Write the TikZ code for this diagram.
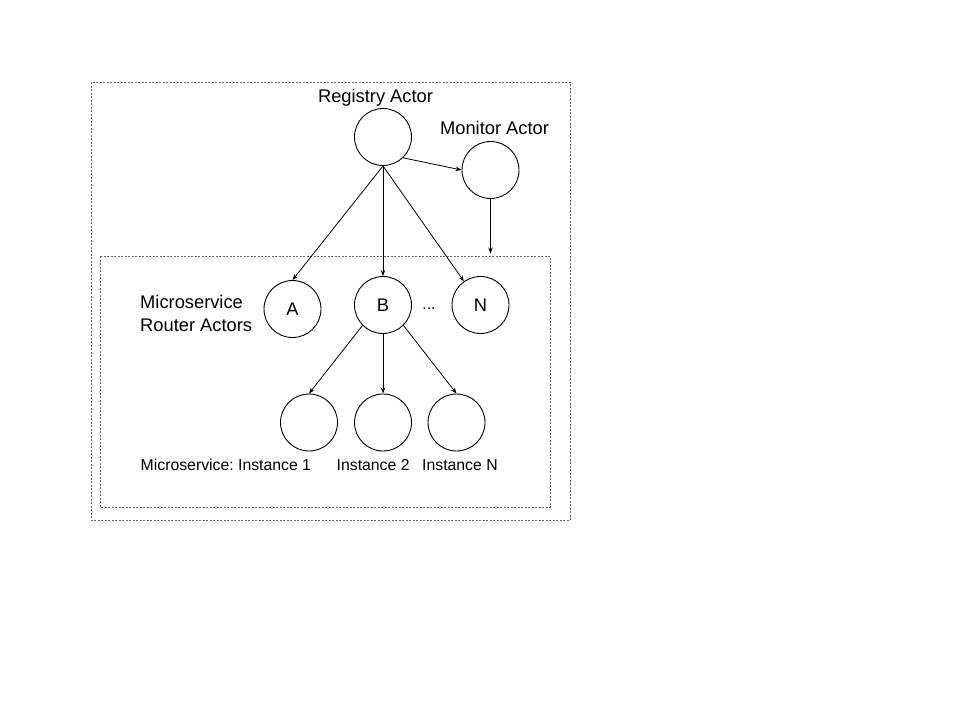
\documentclass[tikz,border=0pt]{standalone}
\usepackage{fontspec}
\setmainfont{Liberation Sans}
\usetikzlibrary{arrows.meta}
\frenchspacing
\begin{document}
\begin{tikzpicture}[x=1pt,y=-1pt,
  actor/.style={circle,draw=black,line width=0.9pt,minimum size=57pt,inner sep=0pt,font=\fontsize{18.3}{21}\selectfont},
  big/.style={font=\fontsize{18.3}{22}\selectfont,inner sep=0pt},
  small/.style={font=\fontsize{15.8}{19}\selectfont,inner sep=0pt},
  arr/.style={-{Stealth[length=6pt,width=4.5pt]},line width=0.8pt},
  box/.style={draw=black!60,line width=0.8pt,dash pattern=on 2pt off 1.5pt}]
\useasboundingbox (0,0) rectangle (960,720);
\draw[box] (91,82) rectangle (570,520);
\draw[box] (100,256) rectangle (550,507);
\node[actor] (reg) at (383,137) {};
\node[actor] (mon) at (490.5,170) {};
\node[actor] (A) at (292.5,309) {A};
\node[actor] (B) at (383,305) {B};
\node[actor] (N) at (480.5,305) {N};
\node[actor] (i1) at (309,422.5) {};
\node[actor] (i2) at (383,422.5) {};
\node[actor] (iN) at (456.5,422.5) {};
\node[big,anchor=base] (regl) at (375.5,102) {Registry Actor};
\node[big,anchor=base] (monl) at (494.5,134) {Monitor Actor};
\node[big,anchor=base west] (ml1) at (140,308) {Microservice};
\node[big,anchor=base west] (ml2) at (140,331) {Router Actors};
\node[small,anchor=base] (dots) at (429,309) {...};
\node[small,anchor=base west] (il1) at (140.5,470) {Microservice: Instance 1};
\node[small,anchor=base west] (il2) at (336.5,470) {Instance 2};
\node[small,anchor=base west] (ilN) at (422,470) {Instance N};
\coordinate (monend) at (490.5,253.5);
\draw[arr] (reg.south) -- (A.north);
\draw[arr] (reg.south) -- (B.north);
\draw[arr] (reg.south) -- (N);
\draw[arr] (reg.-46) -- (mon.west);
\draw[arr] (mon.south) -- (monend);
\draw[arr] (B.-135) -- (i1.north);
\draw[arr] (B.south) -- (i2.north);
\draw[arr] (B.-45) -- (iN.north);
\end{tikzpicture}
\end{document}
